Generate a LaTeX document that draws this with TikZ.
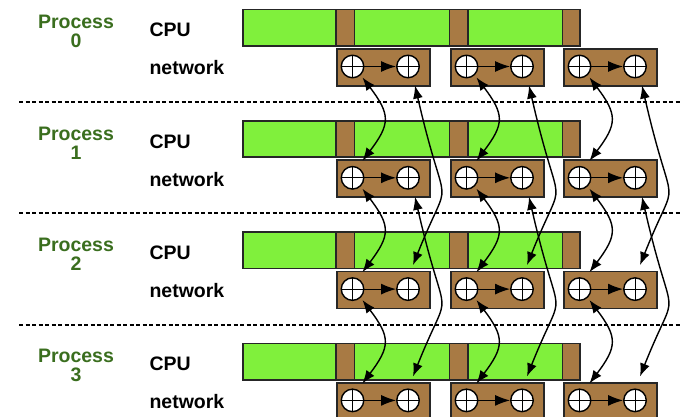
\documentclass[tikz,border=0pt]{standalone}
\usepackage{fontspec}
\setmainfont{Liberation Sans}
\usetikzlibrary{arrows.meta,calc}
\definecolor{cpugreen}{RGB}{128,240,60}
\definecolor{netbrown}{RGB}{168,122,68}
\definecolor{procgreen}{RGB}{58,110,30}
\begin{document}
\begin{tikzpicture}[x=1pt,y=1pt,
  lbl/.style={font=\fontsize{19.5}{20}\selectfont\bfseries, inner sep=0pt},
  proc/.style={lbl, text=procgreen, anchor=base},
  greenbar/.style={fill=cpugreen, draw=black!85, line width=1.7pt},
  brownbar/.style={fill=netbrown, draw=black!85, line width=1.7pt},
  netbox/.style={rectangle, fill=netbrown, draw=black!85, line width=1.7pt,
    minimum width=93pt, minimum height=37pt, inner sep=0pt},
  xcirc/.style={circle, fill=white, draw=black, line width=1.4pt,
    minimum size=22.5pt, inner sep=0pt,
    path picture={\draw[line width=0.9pt]
      (path picture bounding box.north) -- (path picture bounding box.south)
      (path picture bounding box.east) -- (path picture bounding box.west);}},
  flow/.style={-{Latex[length=15pt,width=11pt]}, line width=1.2pt},
  link/.style={{Latex[length=13pt,width=10pt]}-{Latex[length=13pt,width=10pt]}, line width=1.4pt},
  sep/.style={dash pattern=on 4pt off 2.5pt, line width=1.8pt}
]
\useasboundingbox (0,0) rectangle (682,-417);
\clip (0,0) rectangle (682,-417);
\fill[white] (0,0) rectangle (682,-417);

% rows
\foreach \i in {0,1,2,3}{
  \pgfmathsetmacro{\yo}{-111.3*\i}
  \begin{scope}[yshift=\yo pt]
    \node[proc] (p\i) at (76,-29) {Process};
    \node[proc] (pn\i) at (76,-47.7) {\i};
    \node[lbl, anchor=base west] (cpu\i) at (149.3,-36.7) {CPU};
    \node[lbl, anchor=base west] (net\i) at (149.3,-75) {network};
    \path[greenbar] (243,-9.5) rectangle (336,-46);
    \path[brownbar] (336,-9.5) rectangle (354.5,-46);
    \path[greenbar] (354.5,-9.5) rectangle (449.5,-46);
    \path[brownbar] (449.5,-9.5) rectangle (468,-46);
    \path[greenbar] (468,-9.5) rectangle (562.5,-46);
    \path[brownbar] (562.5,-9.5) rectangle (580,-46);
    \foreach \j/\bx in {1/336,2/450,3/563}{
      \node[netbox, anchor=north west] (nb\i-\j) at (\bx,-48) {};
      \node[xcirc] (L\i-\j) at (\bx+16.5,-66.5) {};
      \node[xcirc] (R\i-\j) at (\bx+72,-66.5) {};
      \draw[flow] (L\i-\j) -- (R\i-\j);
    }
  \end{scope}
}

% separators
\foreach \i in {0,1,2}{
  \draw[sep] (19,{-102-111.3*\i}) -- (682,{-102-111.3*\i});
}

% short links between neighbouring rows
\foreach \i in {0,1,2}{
  \pgfmathtruncatemacro{\k}{\i+1}
  \foreach \j in {1,2,3}{
    \draw[link] ([shift={(10,-11)}]L\i-\j.center) .. controls +(28,-37) and +(28,37) .. ([shift={(10,17)}]L\k-\j.center);
  }
}

% long links skipping one row
\foreach \i in {0,1}{
  \pgfmathtruncatemacro{\k}{\i+2}
  \foreach \j in {1,2,3}{
    \draw[link] ([shift={(7,-19)}]R\i-\j.center) .. controls +(32,-140) and +(40,100) .. ([shift={(5,24)}]R\k-\j.center);
  }
}
\end{tikzpicture}
\end{document}
